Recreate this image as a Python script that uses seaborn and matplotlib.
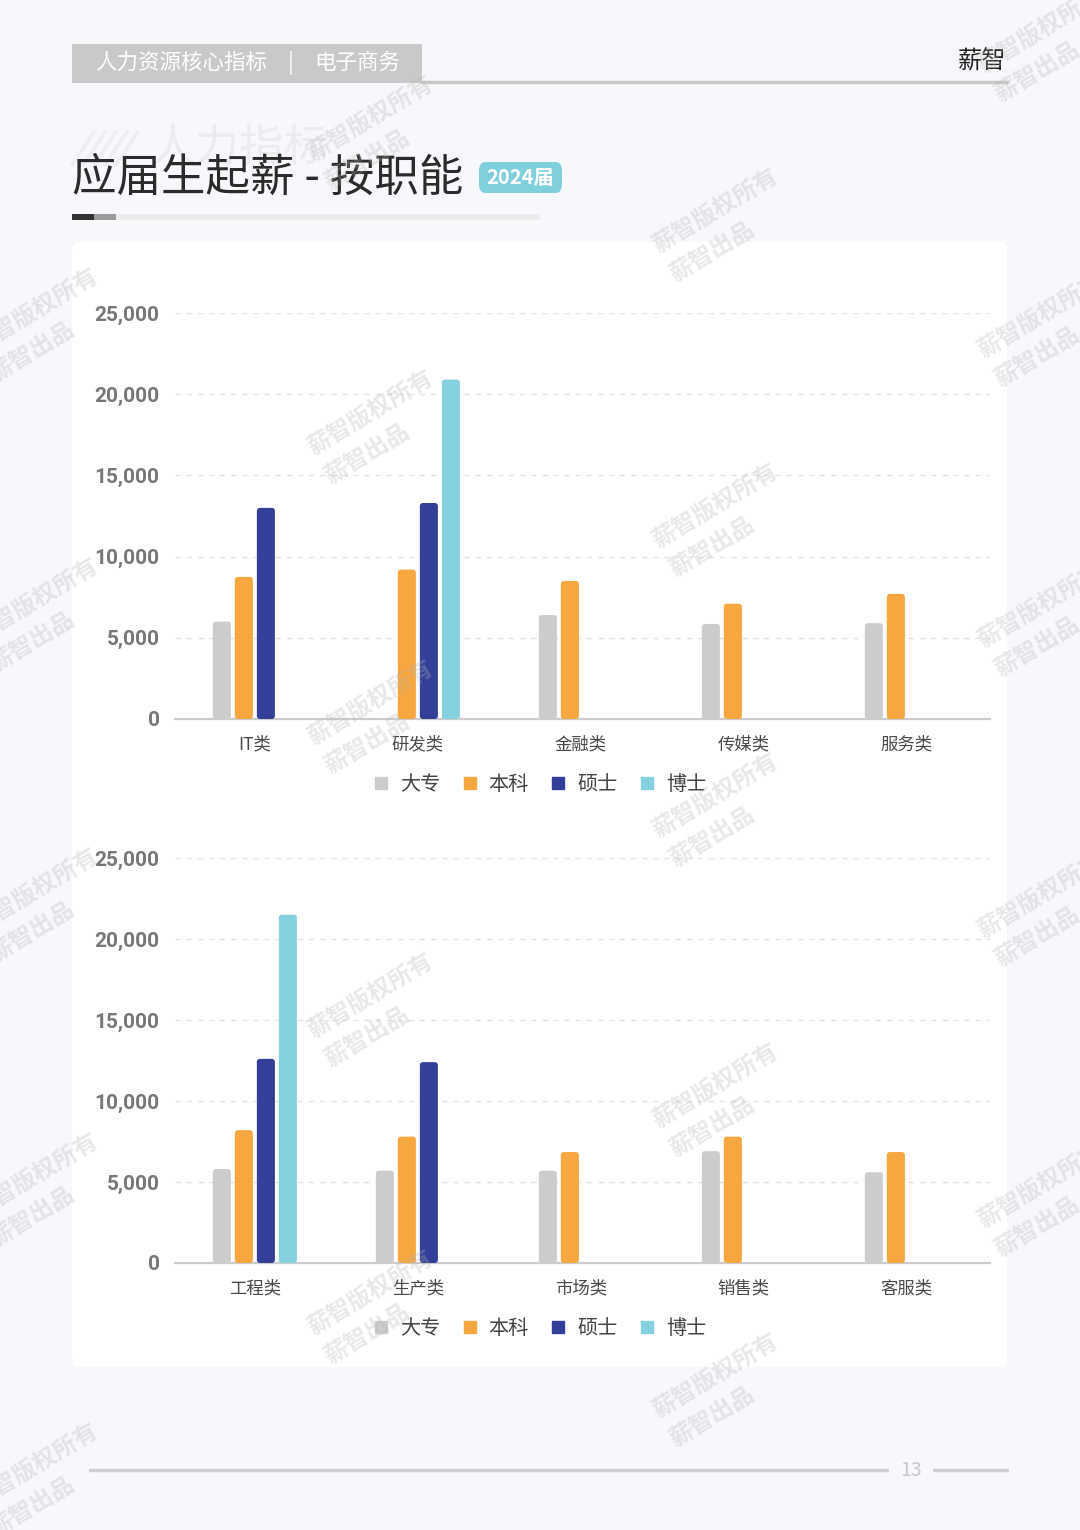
import numpy as np
import pandas as pd
import matplotlib
matplotlib.use("Agg")
import matplotlib.pyplot as plt
import seaborn as sns
from matplotlib.patches import FancyBboxPatch, Rectangle
from matplotlib.lines import Line2D
from matplotlib.ticker import FuncFormatter

# ---------------- data ----------------
levels = ["大专", "本科", "硕士", "博士"]
cats_top = ["IT类", "研发类", "金融类", "传媒类", "服务类"]
top_dazhuan = [6000, np.nan, 6400, 5850, 5900]
top_benke = [8750, 9200, 8500, 7100, 7700]
top_shuoshi = [13000, 13300, np.nan, np.nan, np.nan]
top_boshi = [np.nan, 20900, np.nan, np.nan, np.nan]

cats_bot = ["工程类", "生产类", "市场类", "销售类", "客服类"]
bot_dazhuan = [5800, 5700, 5700, 6900, 5600]
bot_benke = [8200, 7800, 6850, 7800, 6850]
bot_shuoshi = [12600, 12400, np.nan, np.nan, np.nan]
bot_boshi = [21500, np.nan, np.nan, np.nan, np.nan]

yticks = [0, 5000, 10000, 15000, 20000, 25000]
colors = ["#cccccc", "#f6a73f", "#333f99", "#84d2df"]

def long_df(cats, series):
    rows = []
    for lev, vals in zip(levels, series):
        for c, v in zip(cats, vals):
            if not np.isnan(v):
                rows.append({"cat": c, "level": lev, "value": v})
    return pd.DataFrame(rows)

df_top = long_df(cats_top, [top_dazhuan, top_benke, top_shuoshi, top_boshi])
df_bot = long_df(cats_bot, [bot_dazhuan, bot_benke, bot_shuoshi, bot_boshi])

# ---------------- style ----------------
sns.set_theme(style="white")
FONT = ["Noto Sans CJK SC", "DejaVu Sans"]
plt.rcParams["font.family"] = FONT

W, H = 1080, 1530
fig = plt.figure(figsize=(W / 100, H / 100), dpi=100)
fig.patch.set_facecolor("#f7f8fb")

def fx(px):
    return px / W

def fy(py):
    return 1 - py / H

# card
card = FancyBboxPatch((fx(72), fy(1367)), fx(1007) - fx(72), fy(242) - fy(1367),
                      boxstyle="round,pad=0,rounding_size=0.006",
                      transform=fig.transFigure, fc="white", ec="none", zorder=-5)
fig.patches.append(card)

# header
fig.patches.append(Rectangle((fx(72), fy(83)), fx(422) - fx(72), fy(44) - fy(83),
                             transform=fig.transFigure, fc="#c9c9c9", ec="none", zorder=-4))
fig.add_artist(Line2D([fx(422), fx(1007)], [fy(82), fy(82)], color="#c9c9c9", lw=2.5,
                      transform=fig.transFigure, zorder=-4))
fig.text(fx(95), fy(63), "人力资源核心指标", color="white", fontsize=15.5,
         va="center", ha="left")
fig.text(fx(291), fy(63), "|", color="white", fontsize=15.5, va="center", ha="center")
fig.text(fx(314), fy(63), "电子商务", color="white", fontsize=15.5, va="center", ha="left")
fig.text(fx(1006), fy(62), "薪智", color="#222222", fontsize=17.5, va="center", ha="right")

# ghost text behind title
fig.text(fx(150), fy(148), "人力指标", color="#ebecf0", fontsize=32, va="center", ha="left",
         zorder=-3)
for i in range(5):
    x0 = 72 + i * 11
    fig.add_artist(Line2D([fx(x0), fx(x0 + 22)], [fy(165), fy(132)], color="#eceef1", lw=2.5,
                          transform=fig.transFigure, zorder=-3))

# title
fig.text(fx(72), fy(178), "应届生起薪 - 按职能", color="#2b2b2b", fontsize=32,
         va="center", ha="left", zorder=2)
badge = FancyBboxPatch((fx(479), fy(193)), fx(562) - fx(479), fy(162) - fy(193),
                       boxstyle="round,pad=0,rounding_size=0.006",
                       transform=fig.transFigure, fc="#7fcfdc", ec="none", zorder=-2)
fig.patches.append(badge)
fig.text(fx(520.5), fy(178), "2024届", color="white", fontsize=14.5, fontweight="bold",
         va="center", ha="center", zorder=3)
# underline bar
fig.patches.append(Rectangle((fx(116), fy(220)), fx(540) - fx(116), fy(214) - fy(220),
                             transform=fig.transFigure, fc="#ececec", ec="none", zorder=-2))
fig.patches.append(Rectangle((fx(72), fy(220)), fx(94) - fx(72), fy(214) - fy(220),
                             transform=fig.transFigure, fc="#333333", ec="none", zorder=-2))
fig.patches.append(Rectangle((fx(94), fy(220)), fx(116) - fx(94), fy(214) - fy(220),
                             transform=fig.transFigure, fc="#9a9a9a", ec="none", zorder=-2))

# footer
fig.add_artist(Line2D([fx(90), fx(887)], [fy(1470), fy(1470)], color="#cfcfcf", lw=2.5,
                      transform=fig.transFigure, zorder=-2))
fig.add_artist(Line2D([fx(934), fx(1007)], [fy(1470), fy(1470)], color="#cfcfcf", lw=2.5,
                      transform=fig.transFigure, zorder=-2))
fig.text(fx(911), fy(1470), "13", color="#c8c8c8", fontsize=14, va="center", ha="center")

# ---------------- charts ----------------
def draw(ax, df, cats):
    ax.set_facecolor("none")
    sns.barplot(data=df, x="cat", y="value", hue="level", order=cats, hue_order=levels,
                palette=colors, width=0.54, gap=0.18, legend=False, ax=ax,
                saturation=1, zorder=3)
    ax.set_xlim(-0.49, 4.51)
    ax.set_ylim(0, 25000)
    ax.set_yticks(yticks)
    ax.yaxis.set_major_formatter(FuncFormatter(lambda v, p: f"{int(v):,}"))
    ax.set_xlabel("")
    ax.set_ylabel("")
    ax.set_axisbelow(True)
    ax.yaxis.grid(True, linestyle=(0, (4, 4)), color="#e4e4e4", lw=1)
    ax.xaxis.grid(False)
    for s in ["top", "right", "left"]:
        ax.spines[s].set_visible(False)
    ax.spines["bottom"].set_color("#cccccc")
    ax.spines["bottom"].set_linewidth(1.6)
    ax.tick_params(axis="y", length=0, pad=11, labelsize=15, labelcolor="#777777")
    ax.tick_params(axis="x", length=0, pad=12, labelsize=12.5, labelcolor="#4a4a4a")
    for lab in ax.get_yticklabels():
        lab.set_fontweight("semibold")
        lab.set_family(["Roboto", "DejaVu Sans"])
    # rounded tops
    bbox = ax.get_position()
    px_w = bbox.width * W
    px_h = bbox.height * H
    xper = 5.0 / px_w
    yper = 25000 / px_h
    asp = yper / xper
    for p in list(ax.patches):
        h = p.get_height()
        if h is None or np.isnan(h) or h <= 0:
            continue
        x, y, w = p.get_x(), p.get_y(), p.get_width()
        fc = p.get_facecolor()
        p.remove()
        fb = FancyBboxPatch((x, y), w, h, boxstyle=f"round,pad=0,rounding_size={3 * xper}",
                            mutation_aspect=asp, fc=fc, ec="none", zorder=3)
        ax.add_patch(fb)

ax1 = fig.add_axes([fx(175), fy(719), fx(990) - fx(175), fy(313) - fy(719)])
draw(ax1, df_top, cats_top)
ax2 = fig.add_axes([fx(175), fy(1263), fx(990) - fx(175), fy(858) - fy(1263)])
draw(ax2, df_bot, cats_bot)

handles = [Line2D([], [], marker="s", ls="none", markersize=9, markerfacecolor=c,
                  markeredgecolor=c) for c in colors]
for yy in (785, 1329):
    fig.legend(handles, levels, loc="center", bbox_to_anchor=(fx(540), fy(yy)), ncol=4,
               frameon=False, fontsize=14.5, handlelength=0.7, handletextpad=0.6,
               columnspacing=1.1, labelcolor="#444444")

# ---------------- watermarks ----------------
wm_color = "#b5b5b5"
centers = []
for cy in [118, 412, 702, 995, 1292]:
    centers.append((370, cy))
for cy in [210, 505, 795, 1085, 1375]:
    centers.append((715, cy))
for cy in [310, 600, 890, 1175, 1465]:
    centers.append((35, cy))
for cy in [30, 315, 605, 895, 1185]:
    centers.append((1040, cy))
for cx, cy in centers:
    fig.text(fx(cx), fy(cy), "薪智版权所有", rotation=31, fontsize=17, fontweight="bold",
             color=wm_color, alpha=0.3, ha="center", va="center", rotation_mode="anchor",
             zorder=10)
    fig.text(fx(cx - 3), fy(cy + 42), "薪智出品", rotation=31, fontsize=17, fontweight="bold",
             color=wm_color, alpha=0.3, ha="center", va="center", rotation_mode="anchor",
             zorder=10)

fig.savefig("out.png", dpi=100, facecolor=fig.get_facecolor())
